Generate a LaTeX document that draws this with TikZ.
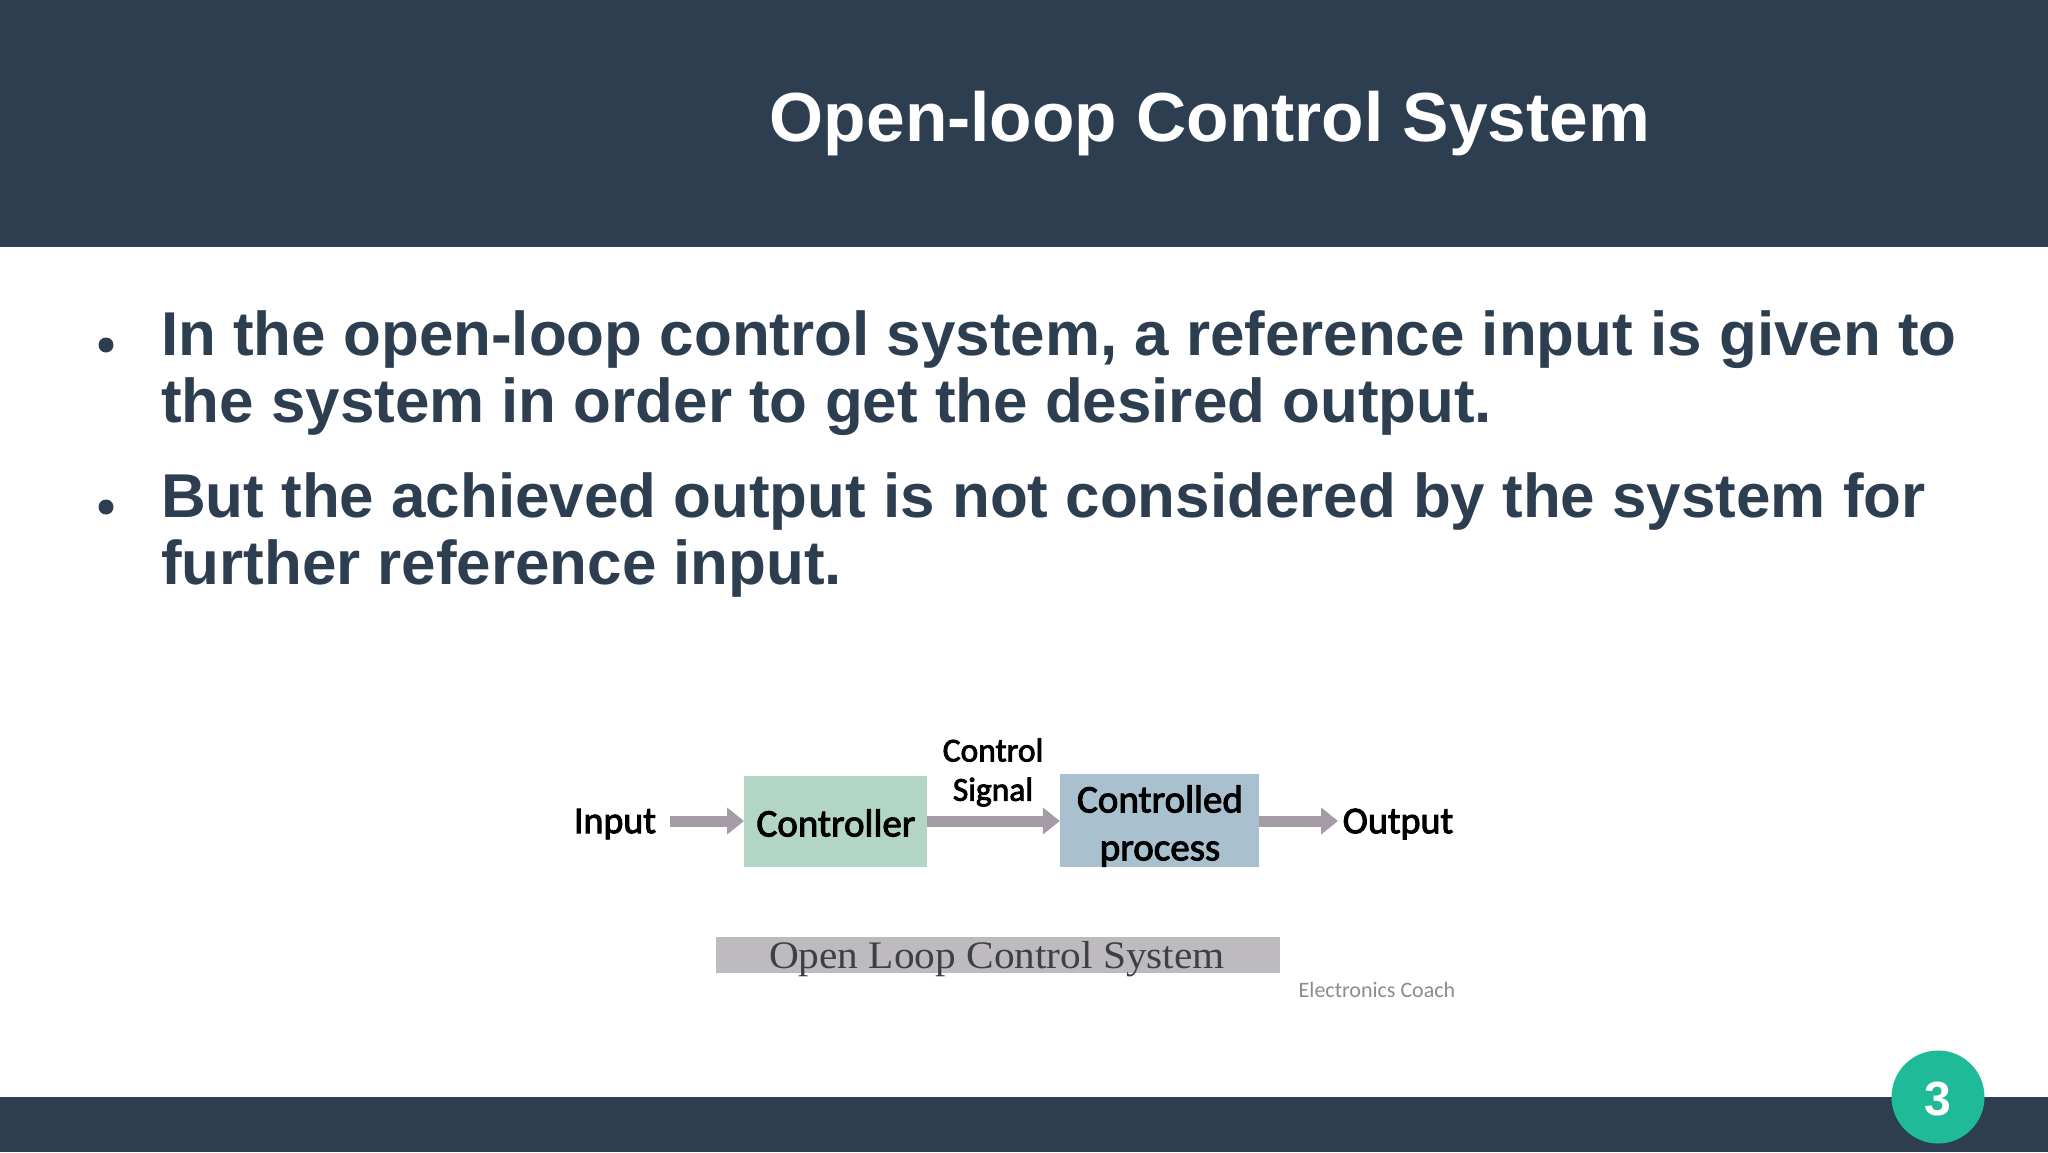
\documentclass[tikz,border=0pt]{standalone}
\usepackage{fontspec}
\setmainfont{Liberation Sans}
\newfontfamily\figfont[FakeBold=2.5]{Carlito}
\newfontfamily\capfont[FakeStretch=1.06]{Liberation Serif}
\newfontfamily\creditfont{Carlito}
\usetikzlibrary{arrows.meta}
\definecolor{navy}{HTML}{2C3E50}
\definecolor{teal}{HTML}{1FBB98}
\definecolor{greenbox}{HTML}{B3D5C5}
\definecolor{bluebox}{HTML}{A9C0CF}
\definecolor{barbox}{HTML}{BDBBC0}
\definecolor{flowcol}{HTML}{A59BA7}
\tikzset{
  band/.style={fill=navy,draw=none},
  bodyline/.style={anchor=base west,inner sep=0pt,text=navy,font=\fontsize{61.9}{61.9}\selectfont\bfseries},
  bulletmark/.style={anchor=center,inner sep=0pt,circle,fill=navy,minimum size=15pt},
  figlabel/.style={inner sep=0pt,text=black,font=\figfont\fontsize{39}{39}\selectfont},
  smalllabel/.style={inner sep=0pt,text=black,font=\figfont\fontsize{38}{38}\selectfont},
  sigfont/.style={inner sep=0pt,text=black,font=\figfont\fontsize{33.5}{33.5}\selectfont},
  flow/.style={draw=flowcol,line width=11pt,-{Triangle[length=17pt,width=26pt,fill=flowcol]}},
}
\begin{document}
\begin{tikzpicture}[x=1pt,y=-1pt]
\useasboundingbox (0,0) rectangle (2048,1152);
\fill[white] (0,0) rectangle (2048,1152);
\fill[band] (0,0) rectangle (2048,247);
\fill[band] (0,1097) rectangle (2048,1152);
\node[inner sep=0pt,text=white,font=\fontsize{69.5}{69.5}\selectfont\bfseries] (title) at (1210,124) {Open-loop Control System};
\node[bulletmark] (b1) at (106,345) {};
\node[bulletmark] (b2) at (106,507) {};
\node[bodyline] (l1) at (161,355) {In the open-loop control system, a reference input is given to};
\node[bodyline] (l2) at (161,422) {the system in order to get the desired output.};
\node[bodyline] (l3) at (161,517) {But the achieved output is not considered by the system for};
\node[bodyline] (l4) at (161,584) {further reference input.};
\node[fill=greenbox,minimum width=183pt,minimum height=91pt,inner sep=0pt] (ctrl) at (835.7,821) {};
\node[figlabel] at (836,823) {Controller};
\node[fill=bluebox,minimum width=199pt,minimum height=93pt,inner sep=0pt] (proc) at (1159.5,820.5) {};
\node[figlabel] (p1) at (1160,799) {Controlled};
\node[figlabel] (p2) at (1160,854) {process};
\node[smalllabel] (inp) at (615,824) {Input};
\node[smalllabel] (out) at (1398,824) {Output};
\node[sigfont] (sig1) at (993,750) {Control};
\node[sigfont] (sig2) at (993,792) {Signal};
\coordinate (instart) at (670,821);
\coordinate (outend) at (1338,821);
\draw[flow] (instart) -- (ctrl.west |- instart);
\draw[flow] (ctrl.east |- instart) -- (proc.west |- instart);
\draw[flow] (proc.east |- instart) -- (outend);
\node[fill=barbox,minimum width=564pt,minimum height=36pt,inner sep=0pt] (bar) at (998,954.5) {};
\node[inner sep=0pt,text=black!75,font=\capfont\fontsize{39}{39}\selectfont] (cap) at (997,959) {Open Loop Control System};
\node[inner sep=0pt,text=black!45,font=\creditfont\fontsize{22}{22}\selectfont] (credit) at (1377,990) {Electronics Coach};
\node[circle,fill=teal,minimum size=93pt,inner sep=0pt] (page) at (1938,1097) {};
\node[inner sep=0pt,text=white,font=\fontsize{48}{48}\selectfont\bfseries] (pagenum) at (1938,1099) {3};
\end{tikzpicture}
\end{document}
